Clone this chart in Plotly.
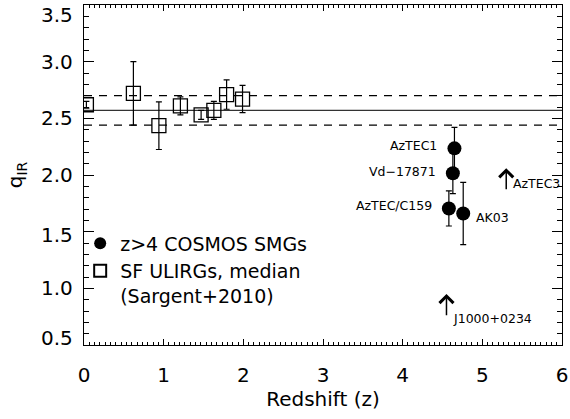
import plotly.graph_objects as go

# ---- data ----
# SF ULIRGs, median (Sargent+2010)
sf_z = [0.03, 0.62, 0.94, 1.21, 1.47, 1.63, 1.79, 1.99]
sf_q = [2.62, 2.72, 2.435, 2.61, 2.53, 2.57, 2.71, 2.67]
sf_err = [0.03, 0.28, 0.21, 0.08, 0.04, 0.08, 0.13, 0.12]

# z>4 COSMOS SMGs
smg_names = ["AzTEC1", "Vd\u221217871", "AzTEC/C159", "AK03"]
smg_z = [4.65, 4.63, 4.58, 4.76]
smg_q = [2.235, 2.015, 1.705, 1.66]
smg_err = [0.185, 0.18, 0.155, 0.275]

# lower limits
lim_names = ["AzTEC3", "J1000+0234"]
lim_z = [5.30, 4.55]
lim_q = [1.86, 0.75]

# local relation: median and scatter
qir_median = 2.57
qir_scatter = 0.13

x_tickvals = [0, 1, 2, 3, 4, 5, 6]
y_tickvals = [0.5, 1.0, 1.5, 2.0, 2.5, 3.0, 3.5]
y_ticktext = ["0.5", "1.0", "1.5", "2.0", "2.5", "3.0", "3.5"]

# ---- styles ----
FONT = "DejaVu Sans"
INK = "black"
label_offsets = {  # (xanchor, xshift, yshift) per SMG label
    "AzTEC1": ("right", -15, 3),
    "Vd\u221217871": ("right", -15, 2),
    "AzTEC/C159": ("right", -15, 3),
    "AK03": ("left", 11, -4),
}
lim_label_offsets = {"AzTEC3": (5, 7), "J1000+0234": (5, -2)}
ytick_label_shift = {3.5: -10, 1.5: -3, 0.5: 7}
arrow_len = 0.2

fig = go.Figure()

fig.add_trace(go.Scatter(
    x=sf_z, y=sf_q, mode="markers",
    name="SF ULIRGs, median<br>(Sargent+2010)",
    legendrank=2,
    marker=dict(symbol="square-open", size=14, color=INK, line=dict(width=1.3, color=INK)),
    error_y=dict(type="data", array=sf_err, color=INK, thickness=1.2, width=3),
))

fig.add_trace(go.Scatter(
    x=smg_z, y=smg_q, mode="markers",
    name="z>4 COSMOS SMGs",
    legendrank=1,
    marker=dict(symbol="circle", size=14, color=INK),
    error_y=dict(type="data", array=smg_err, color=INK, thickness=1.2, width=3),
))

# local relation lines
fig.add_hline(y=qir_median, line=dict(color="#333", width=1.2), layer="below")
for s in (-1, 1):
    fig.add_hline(y=qir_median + s * qir_scatter,
                  line=dict(color=INK, width=1.2, dash="8px,7px"), layer="below")

annotations = []
for n, z, q in zip(smg_names, smg_z, smg_q):
    xa, xs, ys = label_offsets[n]
    annotations.append(dict(x=z, y=q, xref="x", yref="y", text=n, showarrow=False,
                            xanchor=xa, yanchor="middle", xshift=xs, yshift=ys,
                            font=dict(family=FONT, size=12.5, color=INK)))

for n, z, q in zip(lim_names, lim_z, lim_q):
    annotations.append(dict(x=z, y=q + arrow_len, xref="x", yref="y",
                            ax=z, ay=q, axref="x", ayref="y",
                            text="", showarrow=True, arrowhead=4, arrowsize=1.8,
                            arrowwidth=1.5, arrowcolor=INK, standoff=0, startstandoff=0))
    xs, ys = lim_label_offsets[n]
    annotations.append(dict(x=z, y=q, xref="x", yref="y", text=n, showarrow=False,
                            xanchor="left", yanchor="middle", xshift=xs, yshift=ys,
                            font=dict(family=FONT, size=12.5, color=INK)))

for v, t in zip(y_tickvals, y_ticktext):
    annotations.append(dict(x=0, y=v, xref="paper", yref="y", text=t, showarrow=False,
                            xanchor="right", yanchor="middle", xshift=-9,
                            yshift=ytick_label_shift.get(v, 0),
                            font=dict(family=FONT, size=20, color=INK)))

fig.update_layout(
    width=570, height=419,
    margin=dict(l=84, r=8, t=5, b=74),
    paper_bgcolor="white", plot_bgcolor="white",
    font=dict(family=FONT, size=20, color=INK),
    showlegend=True,
    legend=dict(x=-0.008, y=0.355, xanchor="left", yanchor="top",
                bgcolor="rgba(0,0,0,0)", borderwidth=0,
                font=dict(family=FONT, size=19, color=INK),
                itemsizing="constant", valign="top", itemwidth=30,
                tracegroupgap=0),
    annotations=annotations,
)

fig.update_xaxes(
    range=[0, 6], tickvals=x_tickvals, ticks="inside", ticklen=6, tickwidth=1.2,
    tickcolor=INK, showline=True, linecolor=INK, linewidth=1.3, mirror="allticks",
    showgrid=False, zeroline=False, automargin=False, ticklabeloverflow="allow",
    minor=dict(dtick=1 / 15, ticks="inside", ticklen=3, tickwidth=1, tickcolor=INK, showgrid=False),
    tickfont=dict(family=FONT, size=20, color=INK), ticklabelstandoff=12,
    title=dict(text="Redshift (z)", font=dict(family=FONT, size=20, color=INK), standoff=0),
)
fig.update_yaxes(
    range=[0.5, 3.5], tickvals=y_tickvals, showticklabels=False,
    ticks="inside", ticklen=10, tickwidth=1.2, tickcolor=INK,
    showline=True, linecolor=INK, linewidth=1.3, mirror="allticks",
    showgrid=False, zeroline=False, automargin=False,
    minor=dict(dtick=0.1, ticks="inside", ticklen=5, tickwidth=1, tickcolor=INK, showgrid=False),
    title=dict(text="q<sub>IR</sub>", font=dict(family=FONT, size=20, color=INK), standoff=54),
)

fig.write_html("out.html",
               config={"displayModeBar": False},
               post_script="document.body.style.margin='0px';document.body.style.overflow='hidden';")
